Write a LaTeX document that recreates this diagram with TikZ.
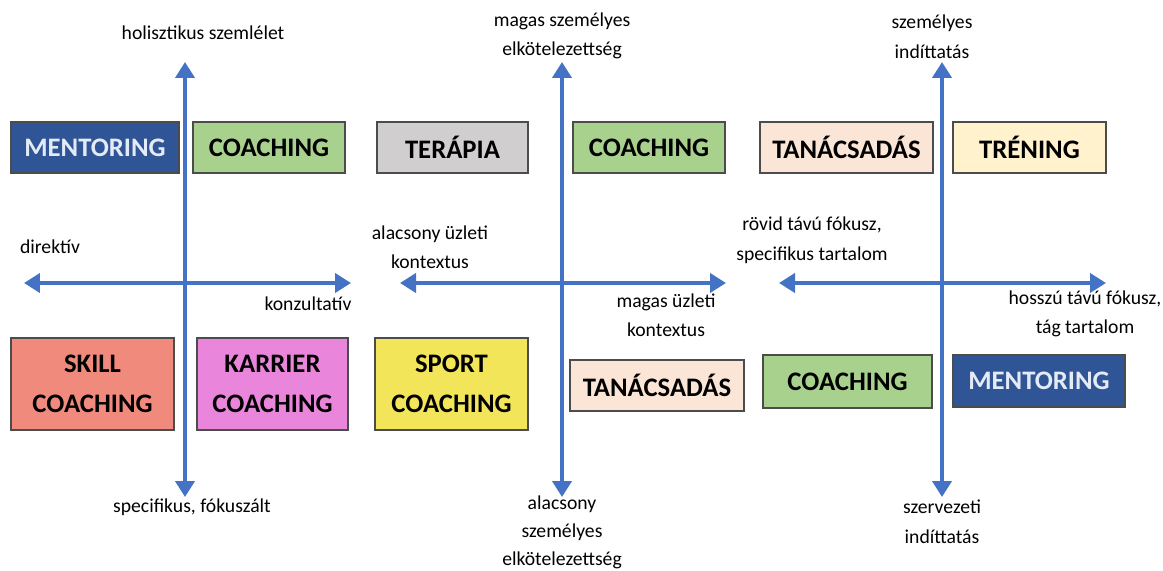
\documentclass[tikz,border=0pt]{standalone}
\usepackage{fontspec}
\setmainfont{Carlito}
\usetikzlibrary{arrows.meta}

\definecolor{axisblue}{HTML}{4472C4}
\definecolor{mentorblue}{HTML}{2F5597}
\definecolor{mentortext}{HTML}{E4EAF6}
\definecolor{coachgreen}{HTML}{A9D18E}
\definecolor{skillred}{HTML}{F08A7D}
\definecolor{careerpink}{HTML}{E986DC}
\definecolor{therapygray}{HTML}{D0CECE}
\definecolor{sportyellow}{HTML}{F3E55A}
\definecolor{advicepeach}{HTML}{FBE5D6}
\definecolor{trainyellow}{HTML}{FFF2CC}

\begin{document}
\begin{tikzpicture}[x=0.02cm, y=-0.02cm,
  axis/.style={draw=axisblue, line width=2.8pt,
    {Triangle[length=0.32cm,width=0.38cm]}-{Triangle[length=0.32cm,width=0.38cm]}},
  box/.style={draw=black!70, line width=0.8pt, inner sep=0pt,
    minimum height=1.02cm, align=center,
    font=\fontsize{15.2pt}{22.5pt}\selectfont\bfseries},
  tallbox/.style={box, minimum height=1.84cm},
  lbl/.style={font=\fontsize{11.2pt}{16.8pt}\selectfont, align=center, inner sep=0pt}]

  \useasboundingbox (0,0) rectangle (1163,571);

  % Panel 1: directive / consultative
  \coordinate (p1n) at (185,62);
  \coordinate (p1s) at (185,497);
  \coordinate (p1w) at (24,283);
  \coordinate (p1e) at (351,283);
  \draw[axis] (p1s) -- (p1n);
  \draw[axis] (p1w) -- (p1e);

  \node[box, fill=mentorblue, text=mentortext, minimum width=3.36cm] (mentor1) at (95,147.5) {MENTORING};
  \node[box, fill=coachgreen, minimum width=3.04cm] (coach1) at (269,147.5) {COACHING};
  \node[tallbox, fill=skillred, minimum width=3.26cm] (skill) at (92.5,384) {SKILL\\COACHING};
  \node[tallbox, fill=careerpink, minimum width=3.02cm] (career) at (272.5,384) {KARRIER\\COACHING};

  \node[lbl] (holist) at (203,33) {holisztikus szemlélet};
  \node[lbl] (direct) at (50,247) {direktív};
  \node[lbl] (consult) at (308,304) {konzultatív};
  \node[lbl] (specfoc) at (192,507) {specifikus, fókuszált};

  % Panel 2: business context / personal commitment
  \coordinate (p2n) at (562,62);
  \coordinate (p2s) at (562,497);
  \coordinate (p2w) at (400,283);
  \coordinate (p2e) at (726,283);
  \draw[axis] (p2s) -- (p2n);
  \draw[axis] (p2w) -- (p2e);

  \node[box, fill=therapygray, minimum width=3.02cm] (therapy) at (452.5,147.5) {TERÁPIA};
  \node[box, fill=coachgreen, minimum width=3.04cm] (coach2) at (649,147.5) {COACHING};
  \node[tallbox, fill=sportyellow, minimum width=3.06cm] (sport) at (451.5,384) {SPORT\\COACHING};
  \node[box, fill=advicepeach, minimum width=3.48cm] (advice2) at (657,385.5) {TANÁCSADÁS};

  \node[lbl] (highcommit) at (562,36) {magas személyes\\elkötelezettség};
  \node[lbl] (lowbiz) at (430,247) {alacsony üzleti\\kontextus};
  \node[lbl] (highbiz) at (666,315) {magas üzleti\\kontextus};
  \node[lbl, font=\fontsize{11.2pt}{16pt}\selectfont] (lowcommit) at (562,532) {alacsony\\személyes\\elkötelezettség};

  % Panel 3: focus / motivation
  \coordinate (p3n) at (942,62);
  \coordinate (p3s) at (942,497);
  \coordinate (p3w) at (779,283);
  \coordinate (p3e) at (1106,283);
  \draw[axis] (p3s) -- (p3n);
  \draw[axis] (p3w) -- (p3e);

  \node[box, fill=advicepeach, minimum width=3.46cm] (advice3) at (846.5,147.5) {TANÁCSADÁS};
  \node[box, fill=trainyellow, minimum width=3.06cm] (train) at (1029.5,147.5) {TRÉNING};
  \node[box, fill=coachgreen, minimum width=3.38cm, minimum height=1.06cm] (coach3) at (847.5,381.5) {COACHING};
  \node[box, fill=mentorblue, text=mentortext, minimum width=3.44cm, minimum height=1.04cm] (mentor3) at (1039,381) {MENTORING};

  \node[lbl] (personal) at (932,37) {személyes\\indíttatás};
  \node[lbl] (shortfoc) at (812,240) {rövid távú fókusz,\\specifikus tartalom};
  \node[lbl] (longfoc) at (1085,314) {hosszú távú fókusz,\\tág tartalom};
  \node[lbl] (orgmot) at (942,522) {szervezeti\\indíttatás};

\end{tikzpicture}
\end{document}
